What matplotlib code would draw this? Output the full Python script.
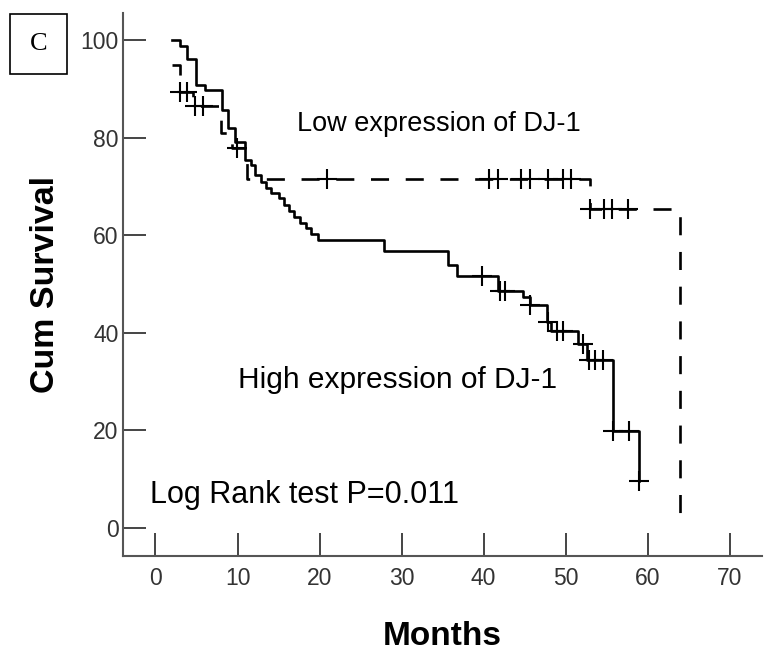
import matplotlib
matplotlib.use('Agg')
import matplotlib.pyplot as plt
from matplotlib.patches import Rectangle

plt.rcParams['font.family'] = ['Liberation Sans', 'DejaVu Sans']
plt.rcParams['lines.scale_dashes'] = False

# high expression of DJ-1 (solid): drop times and survival after each drop
hi_t = [2.0, 3.0, 3.9, 4.9, 6.0, 8.05, 8.85, 9.7, 10.9, 11.7, 12.1, 12.9, 13.5, 14.1,
        15.0, 15.7, 16.3, 16.9, 17.6, 18.3, 19.0, 19.8, 27.8, 35.7, 36.7, 41.8, 44.8,
        45.6, 47.7, 48.2, 51.5, 52.6, 55.8, 58.9]
hi_s = [100, 98.8, 96.1, 90.9, 89.8, 85.7, 82.0, 79.2, 75.5, 74.5, 72.4, 71.0, 69.7, 68.6,
        67.6, 66.3, 65.0, 63.8, 62.6, 61.5, 60.3, 59.1, 56.7, 54.0, 51.6, 48.5, 47.3,
        45.7, 42.3, 40.3, 37.7, 34.5, 19.8, 9.7]
hi_cens_t = [39.8, 42.0, 42.6, 45.6, 47.9, 48.9, 49.7, 52.1, 52.9, 53.6, 54.6, 55.8, 57.7, 58.9]
hi_cens_s = [51.6, 48.5, 48.5, 45.7, 42.3, 40.3, 40.3, 37.7, 34.5, 34.5, 34.5, 19.8, 19.8, 9.7]

# low expression of DJ-1 (dashed)
lo_t = [2.0, 3.0, 4.6, 8.0, 9.3, 11.2, 53.0, 64.0]
lo_s = [95.0, 89.5, 86.6, 81.0, 77.9, 71.6, 65.4, 0.0]
lo_cens_t = [3.0, 3.9, 4.8, 5.8, 9.9, 20.9, 40.7, 41.8, 44.6, 45.6, 47.8, 49.7, 50.7,
             53.0, 54.7, 55.6, 57.6]
lo_cens_s = [89.5, 89.5, 86.6, 86.6, 77.9, 71.6, 71.6, 71.6, 71.6, 71.6, 71.6, 71.6, 71.6,
             65.4, 65.4, 65.4, 65.4]

xticks = [0, 10, 20, 30, 40, 50, 60, 70]
yticks = [0, 20, 40, 60, 80, 100]

fig = plt.figure(figsize=(7.68, 6.59), dpi=100)
ax = fig.add_axes([0.1608, 0.1563, 0.831, 0.824])

ax.step(hi_t, hi_s, where='post', color='black', linewidth=1.9)
ax.plot(hi_cens_t, hi_cens_s, linestyle='none', marker='+', markersize=14.5,
        markeredgewidth=1.5, color='black')

ax.step(lo_t, lo_s, where='post', color='black', linewidth=1.9, linestyle=(0, (13, 12)))
ax.plot(lo_cens_t, lo_cens_s, linestyle='none', marker='+', markersize=14.5,
        markeredgewidth=1.5, color='black')

ax.text(17.2, 82.9, 'Low expression of DJ-1', fontsize=19.5, va='center', ha='left')
ax.text(10.0, 30.4, 'High expression of DJ-1', fontsize=21.5, va='center', ha='left')
ax.text(-0.7, 6.8, 'Log Rank test P=0.011', fontsize=22, va='center', ha='left')

ax.set_xlim(-3.9, 73.9)
ax.set_ylim(-5.74, 105.6)
ax.set_xticks(xticks)
ax.set_yticks(yticks)
ax.tick_params(direction='in', length=16.5, width=1.4, color='#444444',
               labelsize=16.5, labelcolor='#333333')
ax.tick_params(axis='y', pad=3.6)
ax.tick_params(axis='x', pad=8)
for s in ['top', 'right']:
    ax.spines[s].set_visible(False)
for s in ['left', 'bottom']:
    ax.spines[s].set_color('#555555')
    ax.spines[s].set_linewidth(1.5)

ax.set_ylabel('Cum Survival', fontsize=24.5, fontweight='bold', labelpad=14)
ax.set_xlabel('Months', fontsize=24, fontweight='bold', labelpad=22)

# panel letter box
fig.add_artist(Rectangle((10 / 768, 1 - 74 / 659), 57 / 768, 60 / 659,
                         transform=fig.transFigure, fill=False, edgecolor='black', linewidth=1.2))
fig.text(38.5 / 768, 1 - 44 / 659, 'C', fontsize=19, family='Liberation Serif',
         ha='center', va='center')

plt.savefig('out.png', dpi=100)
